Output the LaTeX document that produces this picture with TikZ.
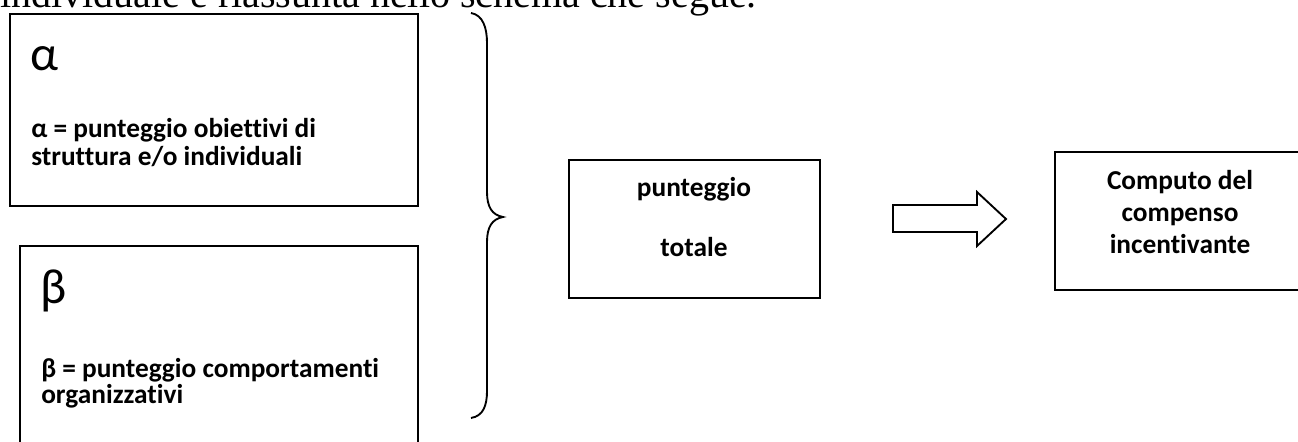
\documentclass[tikz,border=0pt]{standalone}
\usepackage{fontspec}
\setmainfont{Carlito}[Ligatures=NoCommon]
\newfontfamily\introfont{Liberation Serif}
\usepackage{tikz}

\begin{document}
\begin{tikzpicture}[x=0.75pt,y=0.75pt,yscale=-1,xscale=1,
  box/.style={draw,line width=1.4pt,inner sep=0pt,anchor=north west},
  bigsym/.style={anchor=base west,inner sep=0pt,font=\fontsize{37}{42}\selectfont},
  boxtext/.style={inner sep=0pt,font=\bfseries\fontsize{20.5}{24}\selectfont}]
\clip (0,0) rectangle (1298,442);

% Text Node
\node (intro) [anchor=base west,inner sep=0pt,font=\introfont\fontsize{30}{34}\selectfont] at (0,8) {individuale è riassunta nello schema che segue.};

%Shape: Rectangle [alpha]
\node (alphabox) [box,minimum width=306pt,minimum height=144pt] at (9,13) {};
%Shape: Rectangle [beta]
\node (betabox) [box,minimum width=298.5pt,minimum height=161.25pt] at (19,245) {};

% Text Node
\node (alphasym) [bigsym] at (30,71) {α};
% Text Node
\node (alphaline1) [boxtext,anchor=base west] at (31,138) {α = punteggio obiettivi di};
% Text Node
\node (alphaline2) [boxtext,anchor=base west] at (31,166) {struttura e/o individuali};
% Text Node
\node (betasym) [bigsym] at (40,303) {β};
% Text Node
\node (betaline1) [boxtext,anchor=base west] at (41,377) {β = punteggio comportamenti};
% Text Node
\node (betaline2) [boxtext,anchor=base west] at (41,403) {organizzativi};

%Shape: Brace
\draw [line width=1.4pt] (471,13) .. controls (483,15) and (487,28) .. (487,43) -- (487,192) .. controls (487,207) and (492,215) .. (503,217) .. controls (492,219) and (487,227) .. (487,242) -- (487,391) .. controls (487,406) and (483,416) .. (471,418) ;

%Shape: Rectangle [totale]
\node (totbox) [box,minimum width=188.25pt,minimum height=103.5pt] at (568,159) {};
% Text Node
\node (totline1) [boxtext,anchor=base] at (694,196) {punteggio};
% Text Node
\node (totline2) [boxtext,anchor=base] at (694,256) {totale};

%Shape: Right Arrow
\draw [line width=1.4pt] (893,205) -- (977,205) -- (977,192) -- (1006,219) -- (977,246) -- (977,232) -- (893,232) -- cycle ;

%Shape: Rectangle [compenso]
\node (compbox) [box,minimum width=199.5pt,minimum height=103.5pt] at (1054,151) {};
% Text Node
\node (compline1) [boxtext,anchor=base] at (1180,189) {Computo del};
% Text Node
\node (compline2) [boxtext,anchor=base] at (1180,221) {compenso};
% Text Node
\node (compline3) [boxtext,anchor=base] at (1180,253) {incentivante};

\end{tikzpicture}
\end{document}
